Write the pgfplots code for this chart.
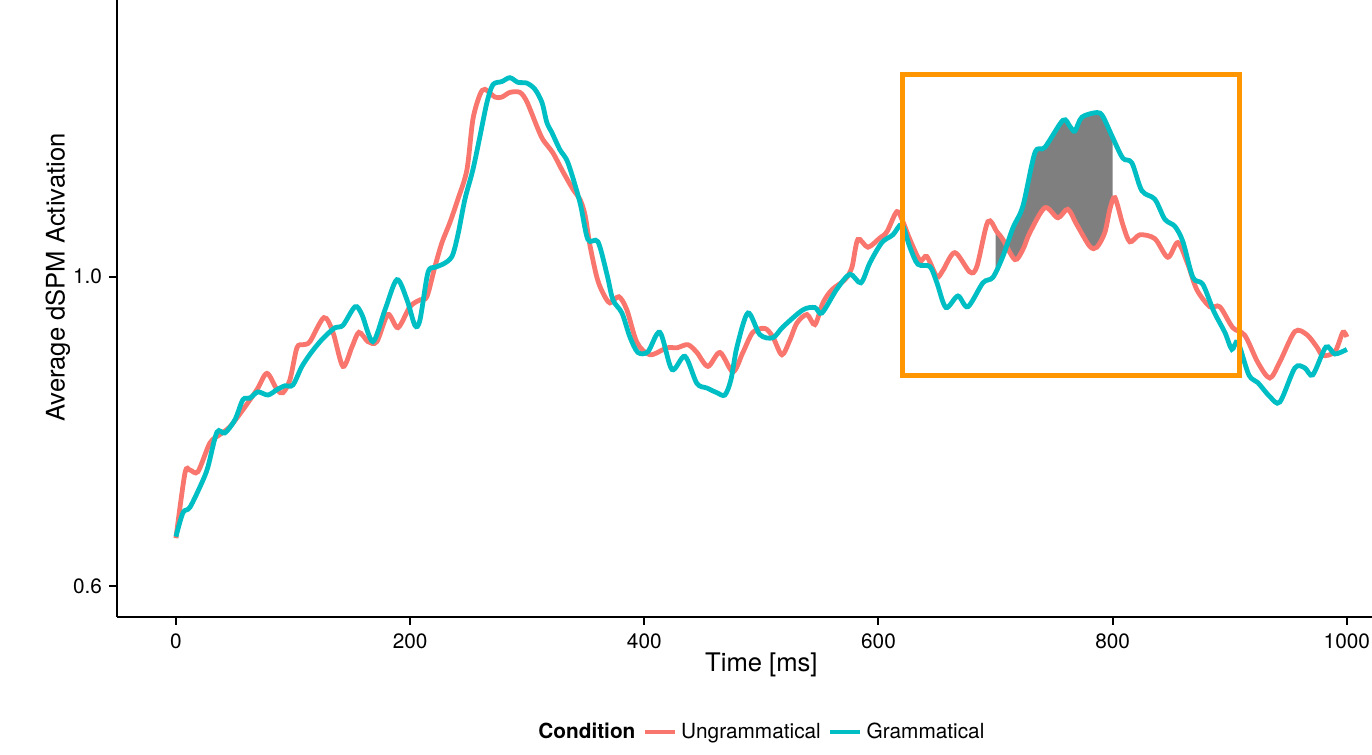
\documentclass[border=0pt]{standalone}
\usepackage{fontspec}
\setmainfont{TeX Gyre Heros}
\usepackage{pgfplots}
\pgfplotsset{compat=1.18}
\usepgfplotslibrary{fillbetween}
\definecolor{ungram}{HTML}{F8766D}
\definecolor{gram}{HTML}{00BFC4}
\definecolor{boxorange}{HTML}{FF9600}
\definecolor{shadegray}{HTML}{7F7F7F}
\begin{document}
\begin{tikzpicture}
\begin{axis}[
  scale only axis, width=644pt, height=339.5pt,
  xmin=-50, xmax=1050, ymin=0.5602, ymax=1.4375,
  axis x line*=bottom, axis y line*=left,
  axis line style={-, line width=1pt, black},
  xtick={0,200,...,1000}, ytick={0.6,1.0},
  tick align=outside, major tick length=4pt,
  tick style={line width=1pt, black},
  /pgf/number format/assume math mode=true,
  xticklabel style={font=\fontsize{10.4}{12}\selectfont, inner sep=4pt, /pgf/number format/1000 sep={}},
  yticklabel style={font=\fontsize{10.4}{12}\selectfont, inner sep=3.5pt, /pgf/number format/.cd, fixed, fixed zerofill, precision=1},
  xlabel={Time [ms]}, ylabel={Average dSPM Activation},
  xlabel style={font=\fontsize{12.8}{15}\selectfont, at={(axis description cs:0.5,-0.0707)}, anchor=center},
  ylabel style={font=\fontsize{12.8}{15}\selectfont, at={(axis description cs:-0.0462,0.5)}, anchor=center},
  legend style={at={(axis description cs:0.5,-0.1694)}, anchor=center, draw=none, fill=none,
    font=\fontsize{10.4}{12}\selectfont, /tikz/every even column/.append style={column sep=1.5pt}},
  legend columns=3, legend cell align=left,
  legend image code/.code={\draw[#1] (0pt,0pt) -- (15pt,0pt);},
]
\addlegendimage{empty legend}
\addlegendentry{\textbf{Condition}}
\addplot[ungram, line width=2.4pt, smooth, tension=0.5, name path=red] table {
x y
0 0.662
7.7 0.746
12.0 0.750
18.8 0.748
29.0 0.785
37.6 0.796
46.1 0.806
57.2 0.828
69.2 0.854
77.7 0.875
86.3 0.854
91.4 0.850
97.4 0.867
103.3 0.908
108.5 0.912
114.4 0.916
126.4 0.947
134.1 0.928
142.6 0.884
150.3 0.909
156.3 0.928
164.0 0.916
171.6 0.916
181.0 0.951
189.6 0.934
199.8 0.961
208.4 0.970
214.3 0.974
221.2 1.013
227.2 1.044
234.0 1.070
240.8 1.100
248.5 1.138
253.6 1.203
259.6 1.235
263.9 1.242
272.4 1.232
278.4 1.232
285.2 1.238
293.8 1.238
299.7 1.226
308.3 1.194
313.4 1.177
321.9 1.160
329.6 1.138
339.0 1.113
345.0 1.100
349.3 1.080
353.5 1.041
359.5 0.999
364.6 0.979
370.6 0.966
378.3 0.974
385.1 0.957
393.7 0.915
404.8 0.899
419.3 0.908
427.8 0.908
437.2 0.912
444.9 0.902
454.3 0.884
464.6 0.902
475.7 0.877
484.2 0.902
492.7 0.928
503.0 0.933
509.8 0.922
517.5 0.899
524.3 0.918
530.3 0.940
538.9 0.951
545.7 0.938
552.5 0.966
560.2 0.983
571.3 0.996
577.3 1.012
582.4 1.048
591.0 1.038
601.2 1.050
607.2 1.058
615.7 1.084
620.8 1.071
626.8 1.048
635.4 1.021
641.3 1.026
649.9 1.000
655.0 1.008
665.2 1.031
678.0 1.006
684.0 1.013
693.4 1.071
701.1 1.058
706.2 1.048
716.5 1.022
723.3 1.035
729.3 1.057
742.1 1.089
753.2 1.076
761.7 1.087
769.4 1.067
780.5 1.039
786.5 1.038
793.3 1.057
797.6 1.087
801.9 1.102
808.7 1.067
814.7 1.045
823.2 1.054
836.0 1.049
847.1 1.025
855.7 1.044
864.2 1.016
871.9 0.983
883.0 0.961
891.5 0.961
902.6 0.934
912.9 0.924
924.0 0.889
934.2 0.869
942.8 0.890
955.6 0.929
965.8 0.925
974.4 0.909
979.5 0.898
989.8 0.903
996.6 0.928
1000.0 0.922
};
\addlegendentry{Ungrammatical}
\addplot[gram, line width=2.4pt, smooth, tension=0.5, name path=teal] table {
x y
0 0.664
6.0 0.695
12.0 0.702
22.2 0.734
27.3 0.754
35.0 0.799
41.8 0.798
50.4 0.815
57.2 0.841
63.2 0.843
70.0 0.851
78.6 0.847
86.3 0.854
93.1 0.859
99.9 0.860
107.6 0.884
116.1 0.903
125.5 0.920
135.8 0.934
142.6 0.937
152.9 0.961
158.8 0.951
168.2 0.916
178.5 0.957
188.7 0.996
197.3 0.970
204.1 0.937
208.4 0.944
215.2 1.005
221.2 1.012
228.0 1.016
235.7 1.026
240.8 1.054
246.8 1.100
253.6 1.138
259.6 1.181
265.6 1.225
270.7 1.248
278.4 1.252
285.2 1.257
292.1 1.251
299.7 1.250
306.6 1.242
312.6 1.225
316.8 1.199
321.1 1.186
327.9 1.164
334.8 1.147
345.0 1.096
351.8 1.048
360.4 1.045
368.1 1.003
373.2 0.970
380.9 0.953
387.7 0.922
394.5 0.902
403.1 0.903
413.3 0.928
423.6 0.880
434.7 0.897
444.9 0.862
453.5 0.856
462.0 0.850
468.8 0.847
474.0 0.867
479.1 0.909
488.5 0.953
498.7 0.925
509.8 0.921
518.4 0.935
535.4 0.957
545.7 0.960
551.7 0.953
564.5 0.984
575.6 1.003
585.0 0.992
592.7 1.018
602.9 1.044
612.3 1.054
620.0 1.067
626.8 1.038
633.6 1.016
643.9 1.013
649.9 0.992
657.6 0.960
667.8 0.975
676.3 0.961
689.2 0.992
697.7 0.999
706.2 1.026
714.8 1.063
723.3 1.091
733.6 1.160
742.1 1.167
757.5 1.202
763.5 1.194
767.7 1.188
773.7 1.206
786.5 1.212
791.6 1.207
800.2 1.179
808.7 1.153
816.4 1.147
824.9 1.111
836.0 1.100
844.6 1.074
853.1 1.065
860.0 1.045
868.5 0.999
877.0 0.990
886.4 0.955
895.8 0.928
901.8 0.906
906.9 0.915
916.3 0.873
924.0 0.863
934.2 0.845
942.8 0.838
955.6 0.882
964.1 0.882
970.9 0.873
982.1 0.909
989.8 0.900
1000.0 0.906
};
\addlegendentry{Grammatical}
\addplot[fill=shadegray, draw=none, forget plot] fill between[of=red and teal, soft clip={domain=700:800}];
\addplot[boxorange, line width=2.6pt, forget plot] coordinates {(620.8,0.872) (908.6,0.872) (908.6,1.261) (620.8,1.261) (620.8,0.872)} -- cycle;
\end{axis}
\pgfresetboundingbox
\useasboundingbox (-58.7pt,-69pt) rectangle (627.3pt,308.5pt);
\end{tikzpicture}
\end{document}
